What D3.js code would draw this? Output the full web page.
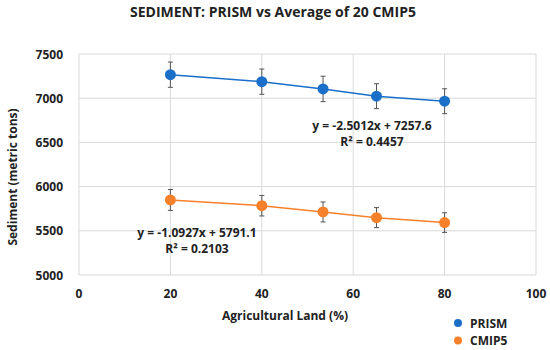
<!DOCTYPE html>
<html>
<head>
<meta charset="utf-8">
<script src="https://cdn.jsdelivr.net/npm/d3@7"></script>
<style>
  html, body { margin: 0; padding: 0; background: #fff; }
  text { font-family: "Open Sans", "Liberation Sans", sans-serif; font-weight: bold; fill: #222; }
</style>
</head>
<body>
<div id="chart"></div>
<script>
// Agricultural land share (%) for each scenario
const landPct = [20, 40, 53.4, 65.1, 80];
// Mean sediment (metric tons)
const prism = [7266, 7187, 7105, 7023, 6966];
const cmip5 = [5849, 5784, 5713, 5649, 5593];
// Error bar half-widths
const prismErr = [143, 143, 144, 141, 141];
const cmip5Err = [118, 116, 113, 113, 111];

const xTicks = [0, 20, 40, 60, 80, 100];
const yTicks = [5000, 5500, 6000, 6500, 7000, 7500];

const width = 550, height = 350;
const margin = { left: 79, right: 14, top: 54, bottom: 75 };

const svg = d3.select('#chart').append('svg')
  .attr('width', width)
  .attr('height', height);

const x = d3.scaleLinear().domain([0, 100]).range([margin.left, width - margin.right]);
const y = d3.scaleLinear().domain([5000, 7500]).range([height - margin.bottom, margin.top]);

// gridlines
svg.append('g')
  .selectAll('line.v')
  .data(xTicks)
  .enter().append('line')
  .attr('x1', d => x(d)).attr('x2', d => x(d))
  .attr('y1', y(5000)).attr('y2', y(7500))
  .attr('stroke', '#d9d9d9').attr('stroke-width', 1);

svg.append('g')
  .selectAll('line.h')
  .data(yTicks)
  .enter().append('line')
  .attr('x1', x(0)).attr('x2', x(100))
  .attr('y1', d => y(d)).attr('y2', d => y(d))
  .attr('stroke', '#d9d9d9').attr('stroke-width', 1);

// tick labels
svg.append('g')
  .selectAll('text')
  .data(yTicks)
  .enter().append('text')
  .attr('x', x(0) - 16)
  .attr('y', d => y(d) + 4.5)
  .attr('text-anchor', 'end')
  .attr('font-size', 12)
  .text(d => d);

svg.append('g')
  .selectAll('text')
  .data(xTicks)
  .enter().append('text')
  .attr('x', d => x(d))
  .attr('y', y(5000) + 23)
  .attr('text-anchor', 'middle')
  .attr('font-size', 12)
  .text(d => d);

// titles
svg.append('text')
  .attr('x', 273).attr('y', 17)
  .attr('text-anchor', 'middle')
  .attr('font-size', 14)
  .text('SEDIMENT: PRISM vs Average of 20 CMIP5');

svg.append('text')
  .attr('x', 285).attr('y', 320)
  .attr('text-anchor', 'middle')
  .attr('font-size', 12)
  .text('Agricultural Land (%)');

svg.append('text')
  .attr('transform', 'translate(17, 177) rotate(-90)')
  .attr('text-anchor', 'middle')
  .attr('font-size', 12)
  .text('Sediment (metric tons)');

// series
const series = [
  { name: 'PRISM', values: prism, err: prismErr, color: '#1a6fc8' },
  { name: 'CMIP5', values: cmip5, err: cmip5Err, color: '#f7802a' }
];

const line = d3.line().x(d => x(d[0])).y(d => y(d[1]));

series.forEach(s => {
  const pts = landPct.map((v, i) => [v, s.values[i], s.err[i]]);
  const g = svg.append('g');

  g.append('path')
    .attr('d', line(pts))
    .attr('fill', 'none')
    .attr('stroke', s.color)
    .attr('stroke-width', 1.5);

  // error bars
  const eb = g.selectAll('g.err').data(pts).enter().append('g');
  eb.append('line')
    .attr('x1', d => x(d[0])).attr('x2', d => x(d[0]))
    .attr('y1', d => y(d[1] + d[2])).attr('y2', d => y(d[1] - d[2]))
    .attr('stroke', '#555').attr('stroke-width', 1);
  [1, -1].forEach(sign => {
    eb.append('line')
      .attr('x1', d => x(d[0]) - 2.5).attr('x2', d => x(d[0]) + 2.5)
      .attr('y1', d => y(d[1] + sign * d[2])).attr('y2', d => y(d[1] + sign * d[2]))
      .attr('stroke', '#555').attr('stroke-width', 1);
  });

  g.selectAll('circle').data(pts).enter().append('circle')
    .attr('cx', d => x(d[0])).attr('cy', d => y(d[1]))
    .attr('r', 5.5)
    .attr('fill', s.color);
});

// trendline equations
const labels = [
  { lines: ['y = -2.5012x + 7257.6', 'R\u00b2 = 0.4457'], cx: 372, cy: 130 },
  { lines: ['y = -1.0927x + 5791.1', 'R\u00b2 = 0.2103'], cx: 197, cy: 237 }
];
labels.forEach(l => {
  l.lines.forEach((t, i) => {
    svg.append('text')
      .attr('x', l.cx).attr('y', l.cy + i * 16)
      .attr('text-anchor', 'middle')
      .attr('font-size', 12)
      .text(t);
  });
});

// legend
const legend = svg.append('g');
series.forEach((s, i) => {
  legend.append('circle')
    .attr('cx', 458).attr('cy', 323 + i * 17.5)
    .attr('r', 4)
    .attr('fill', s.color);
  legend.append('text')
    .attr('x', 470).attr('y', 327.5 + i * 17.5)
    .attr('font-size', 12)
    .text(s.name);
});
</script>
</body>
</html>
